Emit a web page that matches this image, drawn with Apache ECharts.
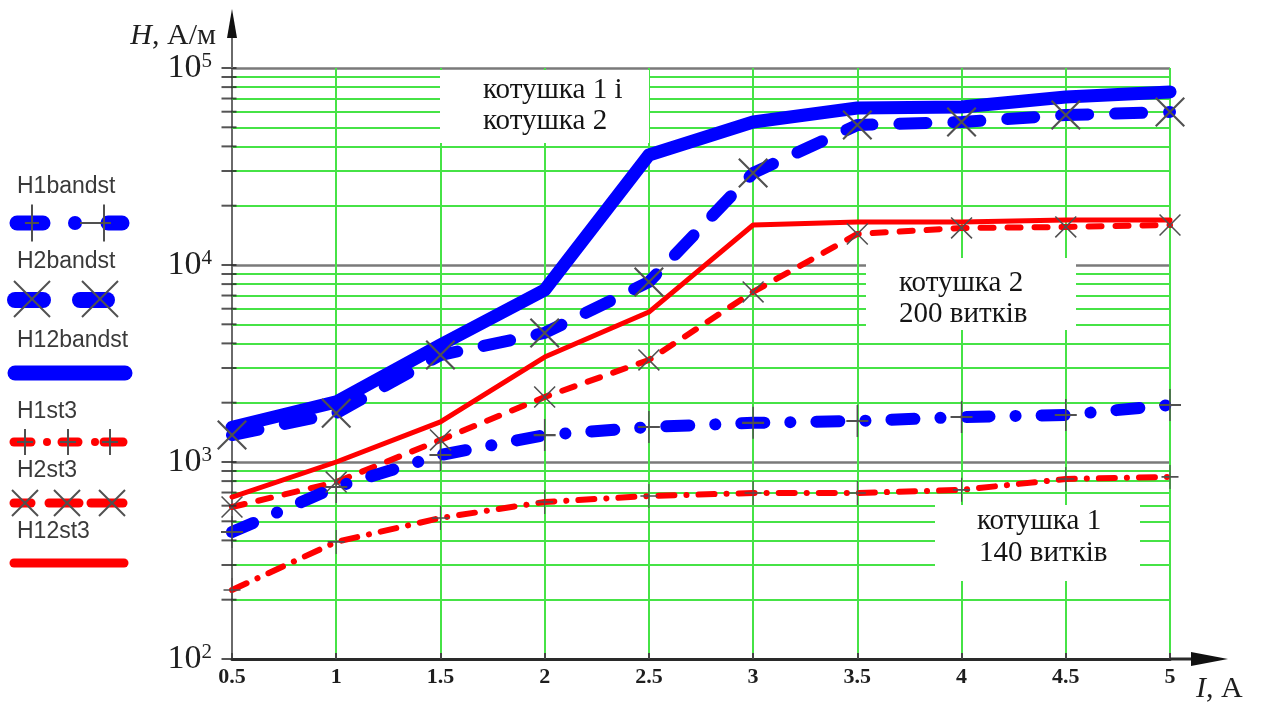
<!DOCTYPE html>
<html>
<head>
<meta charset="utf-8">
<script src="https://cdn.jsdelivr.net/npm/echarts@6/dist/echarts.min.js"></script>
<style>
  html, body { margin: 0; padding: 0; background: #ffffff; }
  #chart { width: 1264px; height: 704px; }
</style>
</head>
<body>
<div id="chart"></div>
<script>
// Field strength H (A/m) of the coils versus current I (A), log scale on H.
const currents = [0.5, 1, 1.5, 2, 2.5, 3, 3.5, 4, 4.5, 5];
const xTickValues = [0.5, 1, 1.5, 2, 2.5, 3, 3.5, 4, 4.5, 5];
const xTickLabels = ['0.5', '1', '1.5', '2', '2.5', '3', '3.5', '4', '4.5', '5'];
const yTickValues = [100, 1000, 10000, 100000];
const yTickPowers = ['2', '3', '4', '5'];
const minorGridValues = [
  200, 300, 400, 500, 600, 700, 800, 900,
  2000, 3000, 4000, 5000, 6000, 7000, 8000, 9000,
  20000, 30000, 40000, 50000, 60000, 70000, 80000, 90000
];

// blue: band steel, red: steel 3
const H1bandst  = [441, 747, 1085, 1370, 1505, 1580, 1615, 1692, 1733, 1946];
const H2bandst  = [1370, 1770, 3490, 4520, 8200, 29300, 51400, 53200, 57700, 59800];
const H12bandst = [1500, 2020, 3930, 7470, 36200, 53200, 62700, 63400, 71300, 75600];
const H1st3     = [224, 393, 520, 627, 672, 696, 696, 722, 820, 840];
const H2st3     = [591, 791, 1294, 2138, 3296, 7300, 14370, 15420, 15600, 15960];
const H12st3    = [664, 1000, 1597, 3410, 5770, 15960, 16520, 16520, 16900, 16900];

const BLUE = '#0000ff';
const RED = '#ff0000';
const GREEN = '#46e346';
const MARK = '#505050';
const SERIF = '"Liberation Serif", "Times New Roman", serif';
const SANS = '"Liberation Sans", Arial, sans-serif';
const CROSS = 'path://M0,1.5L1.5,0L30,28.5L28.5,30Z M28.5,0L30,1.5L1.5,30L0,28.5Z';
const PLUS = 'path://M14,0H16V30H14Z M0,14H30V16H0Z';

function curve(name, values, color, width, dash, symbol, size) {
  return {
    name: name,
    type: 'line',
    z: 10,
    silent: true,
    animation: false,
    data: currents.map((c, i) => [c, values[i]]),
    lineStyle: { color: color, width: width, type: dash || 'solid', cap: 'round', join: 'round' },
    symbol: symbol || 'none',
    symbolSize: size || 0,
    showSymbol: !!symbol,
    showAllSymbol: true,
    itemStyle: { color: MARK },
    emphasis: { disabled: true }
  };
}

// legend drawing helpers
function seg(x1, x2, y, w, color) {
  return { type: 'line', z: 20, shape: { x1: x1, y1: y, x2: x2, y2: y },
    style: { stroke: color, lineWidth: w, lineCap: 'round' } };
}
function thin(x1, y1, x2, y2) {
  return { type: 'line', z: 21, shape: { x1: x1, y1: y1, x2: x2, y2: y2 },
    style: { stroke: MARK, lineWidth: 2 } };
}
function dot(x, y, r, color) {
  return { type: 'circle', z: 20, shape: { cx: x, cy: y, r: r }, style: { fill: color } };
}
function plusMark(x, y, w, h) {
  return [thin(x, y - h / 2, x, y + h / 2), thin(x - w / 2, y, x + w / 2, y)];
}
function crossMark(x, y, s) {
  return [thin(x - s / 2, y - s / 2, x + s / 2, y + s / 2), thin(x - s / 2, y + s / 2, x + s / 2, y - s / 2)];
}
function label(text, x, y) {
  return { type: 'text', z: 20, style: { text: text, x: x, y: y, fill: '#3a3a3a',
    font: '23px ' + SANS, align: 'left', verticalAlign: 'middle' } };
}
function boxText(text, x, y) {
  return { type: 'text', z: 8, style: { text: text, x: x, y: y, fill: '#141414',
    font: '29px ' + SERIF, align: 'left', verticalAlign: 'middle' } };
}
function box(x, y, w, h) {
  return { type: 'rect', z: 7, shape: { x: x, y: y, width: w, height: h }, style: { fill: '#ffffff' } };
}

const legendItems = [].concat(
  [label('H1bandst', 17, 187),
   seg(17, 43, 223, 15, BLUE), dot(75, 223, 7, BLUE), thin(80, 223, 100, 223), seg(108, 122, 223, 15, BLUE)],
  plusMark(32, 223, 14, 37), plusMark(104, 223, 14, 37),
  [label('H2bandst', 17, 262),
   seg(15, 43, 300, 16, BLUE), seg(80, 107, 300, 16, BLUE)],
  crossMark(32, 299, 36), crossMark(100, 299, 36),
  [label('H12bandst', 17, 341), seg(15, 125, 373, 15, BLUE)],
  [label('H1st3', 17, 412),
   seg(14, 31, 442, 9, RED), dot(47, 442, 4, RED), seg(62, 78, 442, 9, RED),
   dot(95, 442, 4, RED), seg(104, 123, 442, 9, RED)],
  plusMark(25, 442, 16, 26), plusMark(68, 442, 16, 26), plusMark(110, 442, 16, 26),
  [label('H2st3', 17, 471),
   seg(14, 31, 503, 9, RED), seg(49, 79, 503, 9, RED), seg(91, 123, 503, 9, RED)],
  crossMark(25, 503, 26), crossMark(67, 503, 26), crossMark(112, 503, 26),
  [label('H12st3', 17, 532), seg(14, 124, 563, 9, RED)]
);

const chart = echarts.init(document.getElementById('chart'), null, { renderer: 'canvas' });

chart.setOption({
  animation: false,
  backgroundColor: '#ffffff',
  grid: { left: 232, right: 94, top: 68, bottom: 45, containLabel: false, outerBoundsMode: 'none' },
  xAxis: {
    type: 'value',
    min: 0.5,
    max: 5,
    interval: 0.5,
    axisLine: { show: true, lineStyle: { color: '#2a2a2a', width: 3 } },
    axisTick: { show: true, inside: true, length: 6, lineStyle: { color: '#444', width: 2 } },
    axisLabel: {
      margin: 7,
      color: '#1e1e1e',
      fontFamily: SERIF,
      fontWeight: 'bold',
      fontSize: 22,
      formatter: function (v) {
        const i = xTickValues.findIndex(t => Math.abs(t - v) < 1e-9);
        return i >= 0 ? xTickLabels[i] : '';
      }
    },
    splitLine: { show: true, lineStyle: { color: GREEN, width: 2 } }
  },
  yAxis: {
    type: 'log',
    logBase: 10,
    min: 100,
    max: 100000,
    axisLine: { show: true, lineStyle: { color: '#6a6a6a', width: 2 } },
    axisTick: { show: false },
    axisLabel: {
      margin: 20,
      formatter: function (v) {
        const i = yTickValues.findIndex(t => Math.abs(Math.log10(t) - Math.log10(v)) < 1e-6);
        return i >= 0 ? '{b|10}{s|' + yTickPowers[i] + '}' : '';
      },
      rich: {
        b: { fontFamily: SERIF, fontSize: 34, lineHeight: 34, color: '#1e1e1e' },
        s: { fontFamily: SERIF, fontSize: 21, lineHeight: 18, color: '#1e1e1e', verticalAlign: 'top' }
      }
    },
    splitLine: { show: true, lineStyle: { color: '#7a7a7a', width: 2.5 } }
  },
  series: [
    {
      // minor logarithmic grid and its axis ticks
      type: 'scatter',
      z: 12,
      silent: true,
      animation: false,
      data: minorGridValues.concat(yTickValues).map(v => [0.5, v]),
      symbol: 'rect',
      symbolSize: [15, 2],
      symbolOffset: [-3, 0],
      itemStyle: { color: '#2a2a2a' },
      emphasis: { disabled: true },
      markLine: {
        z: 1,
        silent: true,
        animation: false,
        symbol: ['none', 'none'],
        label: { show: false },
        lineStyle: { color: GREEN, width: 2, type: 'solid' },
        emphasis: { disabled: true },
        data: minorGridValues.map(v => ({ yAxis: v }))
      }
    },
    curve('H1st3', H1st3, RED, 6, [16, 12, 0.1, 12], PLUS, [17, 24]),
    curve('H2st3', H2st3, RED, 6, [13, 14], CROSS, 22),
    curve('H12st3', H12st3, RED, 5),
    curve('H1bandst', H1bandst, BLUE, 12, [23, 26, 0.1, 26], PLUS, [22, 32]),
    curve('H2bandst', H2bandst, BLUE, 12, [27, 27], CROSS, 30),
    curve('H12bandst', H12bandst, BLUE, 13)
  ],
  graphic: {
    elements: [
      // axis extensions with arrow heads
      { type: 'line', z: 15, shape: { x1: 232, y1: 68, x2: 232, y2: 30 }, style: { stroke: '#6a6a6a', lineWidth: 2 } },
      { type: 'polygon', z: 15, shape: { points: [[232, 9], [227, 38], [237, 38]] }, style: { fill: '#111' } },
      { type: 'line', z: 15, shape: { x1: 1170, y1: 659, x2: 1196, y2: 659 }, style: { stroke: '#2a2a2a', lineWidth: 3 } },
      { type: 'polygon', z: 15, shape: { points: [[1228, 659], [1191, 652], [1191, 666]] }, style: { fill: '#111' } },
      // axis names
      { type: 'text', z: 15, style: {
          text: '{i|H}{n|, А/м}', x: 216, y: 36, align: 'right', verticalAlign: 'middle',
          rich: {
            i: { fontFamily: SERIF, fontSize: 30, fontStyle: 'italic', fill: '#1e1e1e' },
            n: { fontFamily: SERIF, fontSize: 30, fill: '#1e1e1e' }
          } } },
      { type: 'text', z: 15, style: {
          text: '{i|I}{n|, A}', x: 1196, y: 689, align: 'left', verticalAlign: 'middle',
          rich: {
            i: { fontFamily: SERIF, fontSize: 30, fontStyle: 'italic', fill: '#1e1e1e' },
            n: { fontFamily: SERIF, fontSize: 30, fill: '#1e1e1e' }
          } } },
      // annotation boxes
      box(440, 70, 209, 73),
      boxText('котушка 1 і', 483, 90),
      boxText('котушка 2', 483, 121),
      box(866, 258, 210, 72),
      boxText('котушка 2', 899, 283),
      boxText('200 витків', 899, 314),
      box(935, 505, 205, 76),
      boxText('котушка 1', 977, 521),
      boxText('140 витків', 979, 553)
    ].concat(legendItems)
  }
});
</script>
</body>
</html>
